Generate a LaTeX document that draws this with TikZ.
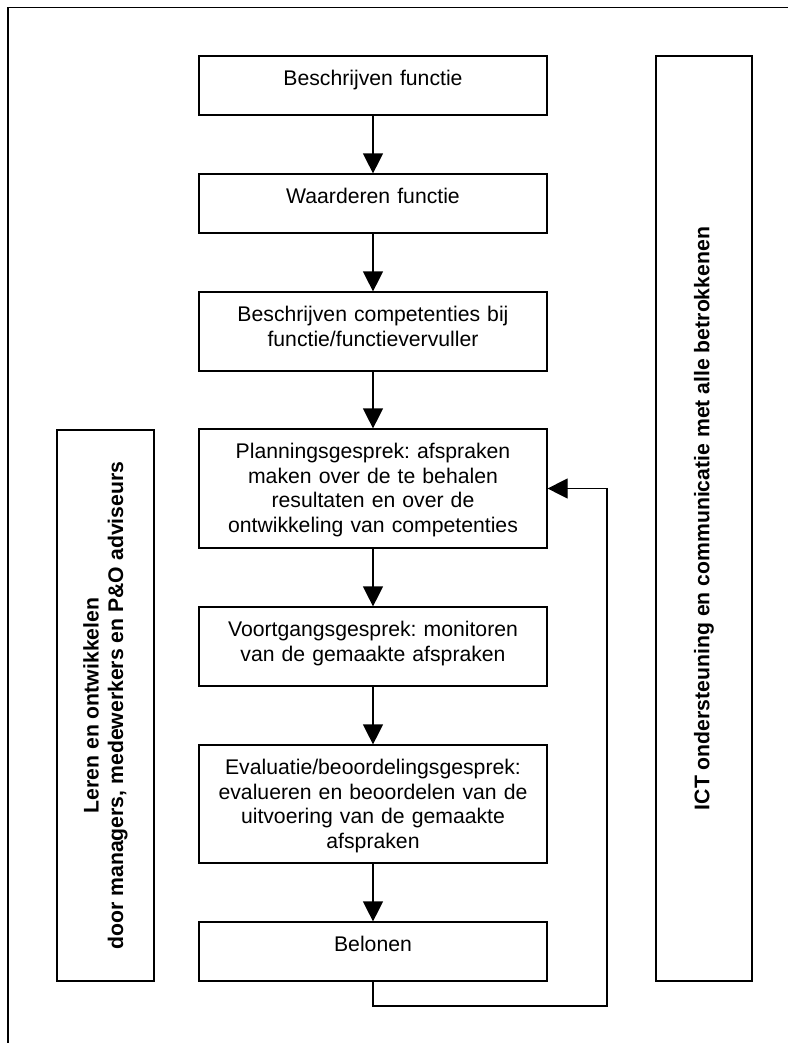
\documentclass[tikz,border=0pt]{standalone}
\usepackage{fontspec}
\setmainfont{Liberation Sans}
\frenchspacing
\usetikzlibrary{arrows.meta}
\begin{document}
\frenchspacing
\begin{tikzpicture}[x=0.75pt,y=-0.75pt,
  box/.style={draw, line width=0.9pt, rectangle, inner sep=0pt, minimum width=261pt},
  txt/.style={inner sep=0pt, align=center, text width=255pt,
    font=\fontsize{15.9pt}{18.3pt}\selectfont\frenchspacing},
  side/.style={draw, line width=0.9pt, rectangle, inner sep=0pt},
  sidetxt/.style={inner sep=0pt, align=center, rotate=90,
    font=\fontsize{15.9pt}{18.3pt}\selectfont\bfseries\frenchspacing},
  flow/.style={line width=0.9pt, -{Triangle[length=15pt,width=15pt]}},
  frame/.style={line width=1.2pt}
]
\useasboundingbox (0,0) rectangle (788,1043);

% outer frame (top and left edges only)
\coordinate (fr) at (8,7.5);
\coordinate (frR) at (788,7.5);
\coordinate (frB) at (8,1043);
\draw[frame] (frR) -- (fr) -- (frB);

% central column boxes
\node[box, minimum height=44.25pt] (b1) at (373,85.5) {};
\node[box, minimum height=44.25pt] (b2) at (373,203.5) {};
\node[box, minimum height=59.25pt] (b3) at (373,331.5) {};
\node[box, minimum height=89.25pt] (b4) at (373,488.5) {};
\node[box, minimum height=59.25pt] (b5) at (373,646.5) {};
\node[box, minimum height=88.5pt] (b6) at (373,804) {};
\node[box, minimum height=44.25pt] (b7) at (373,951.5) {};

\node[txt, anchor=base] (t1) at ([yshift=-22.875pt]b1.north) {Beschrijven functie};
\node[txt, anchor=base] (t2) at ([yshift=-22.875pt]b2.north) {Waarderen functie};
\node[txt, anchor=base] (t3) at ([yshift=-22.875pt]b3.north) {Beschrijven competenties bij\\functie/functievervuller};
\node[txt, anchor=base] (t4) at ([yshift=-22.875pt]b4.north) {Planningsgesprek: afspraken\\maken over de te behalen\\resultaten en over de\\ontwikkeling van competenties};
\node[txt, anchor=base] (t5) at ([yshift=-22.875pt]b5.north) {Voortgangsgesprek: monitoren\\van de gemaakte afspraken};
\node[txt, anchor=base] (t6) at ([yshift=-22.875pt]b6.north) {Evaluatie/beoordelingsgesprek:\\evalueren en beoordelen van de\\uitvoering van de gemaakte\\afspraken};
\node[txt, anchor=base] (t7) at ([yshift=-22.875pt]b7.north) {Belonen};

% side boxes
\node[side, minimum width=72.75pt, minimum height=413.25pt] (L) at (105.5,705.5) {};
\node[sidetxt] (Lt) at (L.center) {Leren en ontwikkelen\\door managers, medewerkers en P\&O adviseurs};
\node[side, minimum width=72pt, minimum height=693.75pt] (R) at (704,518.5) {};
\node[sidetxt] (Rt) at (R.center) {ICT ondersteuning en communicatie met alle betrokkenen};

% arrows
\draw[flow] (b1) -- (b2);
\draw[flow] (b2) -- (b3);
\draw[flow] (b3) -- (b4);
\draw[flow] (b4) -- (b5);
\draw[flow] (b5) -- (b6);
\draw[flow] (b6) -- (b7);

% feedback loop
\coordinate (fb) at (607,1006);
\draw[flow] (b7.south) -- (b7.south |- fb) -- (fb) -- (fb |- b4.east) -- (b4.east);
\end{tikzpicture}
\end{document}
